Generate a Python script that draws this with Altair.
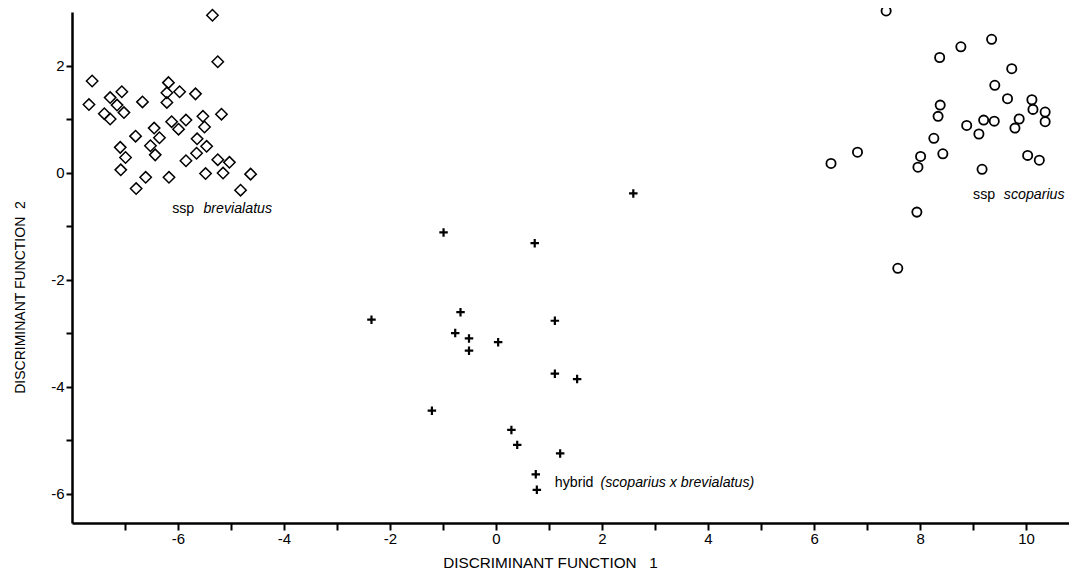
import altair as alt
import pandas as pd

# ssp brevialatus (diamonds)
brev_x = [-5.35, -5.25, -7.62, -7.68, -7.28, -7.06, -7.15, -7.39, -7.28, -7.02,
          -6.67, -6.18, -6.21, -5.97, -5.67, -6.21, -5.18, -6.12, -5.99, -5.85,
          -5.53, -5.50, -6.45, -6.35, -6.80, -7.09, -6.99, -7.08, -6.52, -6.43,
          -5.64, -5.46, -5.65, -5.85, -5.25, -5.03, -5.15, -5.48, -6.17, -6.61,
          -6.79, -4.82, -4.63]
brev_y = [2.94, 2.07, 1.71, 1.27, 1.40, 1.51, 1.26, 1.10, 1.00, 1.12,
          1.32, 1.68, 1.49, 1.51, 1.47, 1.31, 1.09, 0.95, 0.81, 0.98,
          1.05, 0.85, 0.83, 0.65, 0.68, 0.47, 0.28, 0.05, 0.50, 0.33,
          0.63, 0.49, 0.36, 0.22, 0.24, 0.19, -0.01, -0.02, -0.09, -0.09,
          -0.30, -0.33, -0.03]

# ssp scoparius (circles)
scop_x = [7.36, 9.35, 8.77, 8.37, 9.73, 9.41, 9.65, 10.11, 10.13, 10.36,
          10.36, 8.38, 8.34, 9.87, 9.79, 9.20, 9.40, 8.88, 9.11, 8.26,
          6.82, 6.32, 8.01, 7.96, 8.43, 10.03, 10.25, 9.17, 7.94, 7.58]
scop_y = [3.02, 2.49, 2.35, 2.15, 1.94, 1.63, 1.38, 1.36, 1.18, 1.13,
          0.95, 1.26, 1.05, 1.00, 0.83, 0.98, 0.96, 0.88, 0.72, 0.64,
          0.38, 0.17, 0.30, 0.10, 0.35, 0.32, 0.23, 0.06, -0.74, -1.79]

# hybrids (plus signs)
hyb_x = [2.59, -0.99, 0.73, -0.67, 1.11, -0.77, -0.51, -0.51, 0.04, 1.11,
         1.53, -1.21, 0.29, 0.40, 1.21, 0.75, 0.77, -2.35]
hyb_y = [-0.39, -1.12, -1.32, -2.61, -2.77, -3.00, -3.10, -3.33, -3.17, -3.76,
         -3.86, -4.45, -4.81, -5.09, -5.25, -5.64, -5.93, -2.75]

# annotations
lab_text = ["ssp", "brevialatus", "ssp", "scoparius", "hybrid", "(scoparius x brevialatus)"]
lab_x = [-6.11, -5.52, 9.0, 9.58, 1.11, 1.97]
lab_y = [-0.68, -0.68, -0.42, -0.42, -5.81, -5.81]
lab_style = ["normal", "italic", "normal", "italic", "normal", "italic"]

x_ticks = list(range(-7, 11))
y_ticks = list(range(-6, 3))

FONT = "Liberation Sans Narrow, Liberation Sans, Arial, sans-serif"
TFONT = "Liberation Sans, Arial, sans-serif"

df = pd.DataFrame({
    "x": brev_x + scop_x + hyb_x,
    "y": brev_y + scop_y + hyb_y,
    "group": ["brev"] * len(brev_x) + ["scop"] * len(scop_x) + ["hyb"] * len(hyb_x),
})
labels = pd.DataFrame({"t": lab_text, "x": lab_x, "y": lab_y, "s": lab_style})

xscale = alt.Scale(domain=[-8, 10.81], nice=False, zero=False)
yscale = alt.Scale(domain=[-6.55, 3.0], nice=False, zero=False)

xaxis = alt.Axis(
    values=x_ticks, labelExpr="datum.value % 2 == 0 ? '' + datum.value : ''",
    title="DISCRIMINANT FUNCTION\u00a0\u00a0 1", grid=False, domainColor="black",
    domainWidth=2.5, tickColor="black", tickWidth=2, tickSize=7,
    labelFont=FONT, labelFontSize=15, labelColor="black", labelPadding=1,
    titleFont=TFONT, titleFontSize=15.3,
    titleFontWeight="normal", titleColor="black",
    titleX=478, titleY=44, titleBaseline="alphabetic", titleAlign="center",
)
yaxis = alt.Axis(
    values=y_ticks, labelExpr="datum.value % 2 == 0 ? '' + datum.value : ''",
    title="DISCRIMINANT FUNCTION\u00a0 2", grid=False, domainColor="black",
    domainWidth=2.5, tickColor="black", tickWidth=2, tickSize=6,
    labelFont=FONT, labelFontSize=15, labelColor="black", labelPadding=2,
    titleFont=TFONT, titleFontSize=14,
    titleFontWeight="normal", titleColor="black",
    titleX=-48, titleY=285, titleAngle=270, titleBaseline="alphabetic",
    titleAlign="center",
)

base = alt.Chart(df)
enc = dict(x=alt.X("x:Q", scale=xscale, axis=xaxis), y=alt.Y("y:Q", scale=yscale, axis=yaxis))

brev = base.transform_filter("datum.group == 'brev'").mark_point(
    shape="diamond", filled=False, color="black", size=130, strokeWidth=1.5, opacity=1
).encode(**enc)
scop = base.transform_filter("datum.group == 'scop'").mark_point(
    shape="circle", filled=False, color="black", size=85, strokeWidth=1.8, opacity=1
).encode(**enc)
hyb = base.transform_filter("datum.group == 'hyb'").mark_point(
    shape="M-1,0L1,0M0,-1L0,1", filled=False, color="black", size=72, strokeWidth=2.2, opacity=1
).encode(**enc)

tbase = alt.Chart(labels)
tenc = dict(x=alt.X("x:Q", scale=xscale, axis=xaxis), y=alt.Y("y:Q", scale=yscale, axis=yaxis), text="t:N")
txt_n = tbase.transform_filter("datum.s == 'normal'").mark_text(
    align="left", baseline="middle", font=TFONT,
    fontSize=14.2, color="black", fontStyle="normal"
).encode(**tenc)
txt_i = tbase.transform_filter("datum.s == 'italic'").mark_text(
    align="left", baseline="middle", font=TFONT,
    fontSize=14.2, color="black", fontStyle="italic"
).encode(**tenc)

chart = alt.layer(brev, scop, hyb, txt_n, txt_i).properties(
    width=997, height=511,
    background="white",
    autosize=alt.AutoSizeParams(type="none"),
    padding={"left": 64, "top": 4, "right": 0, "bottom": 48},
).configure_view(stroke=None, strokeWidth=0).configure_axis(grid=False)

chart.save("out.html", embed_options={"renderer": "svg", "actions": False})
